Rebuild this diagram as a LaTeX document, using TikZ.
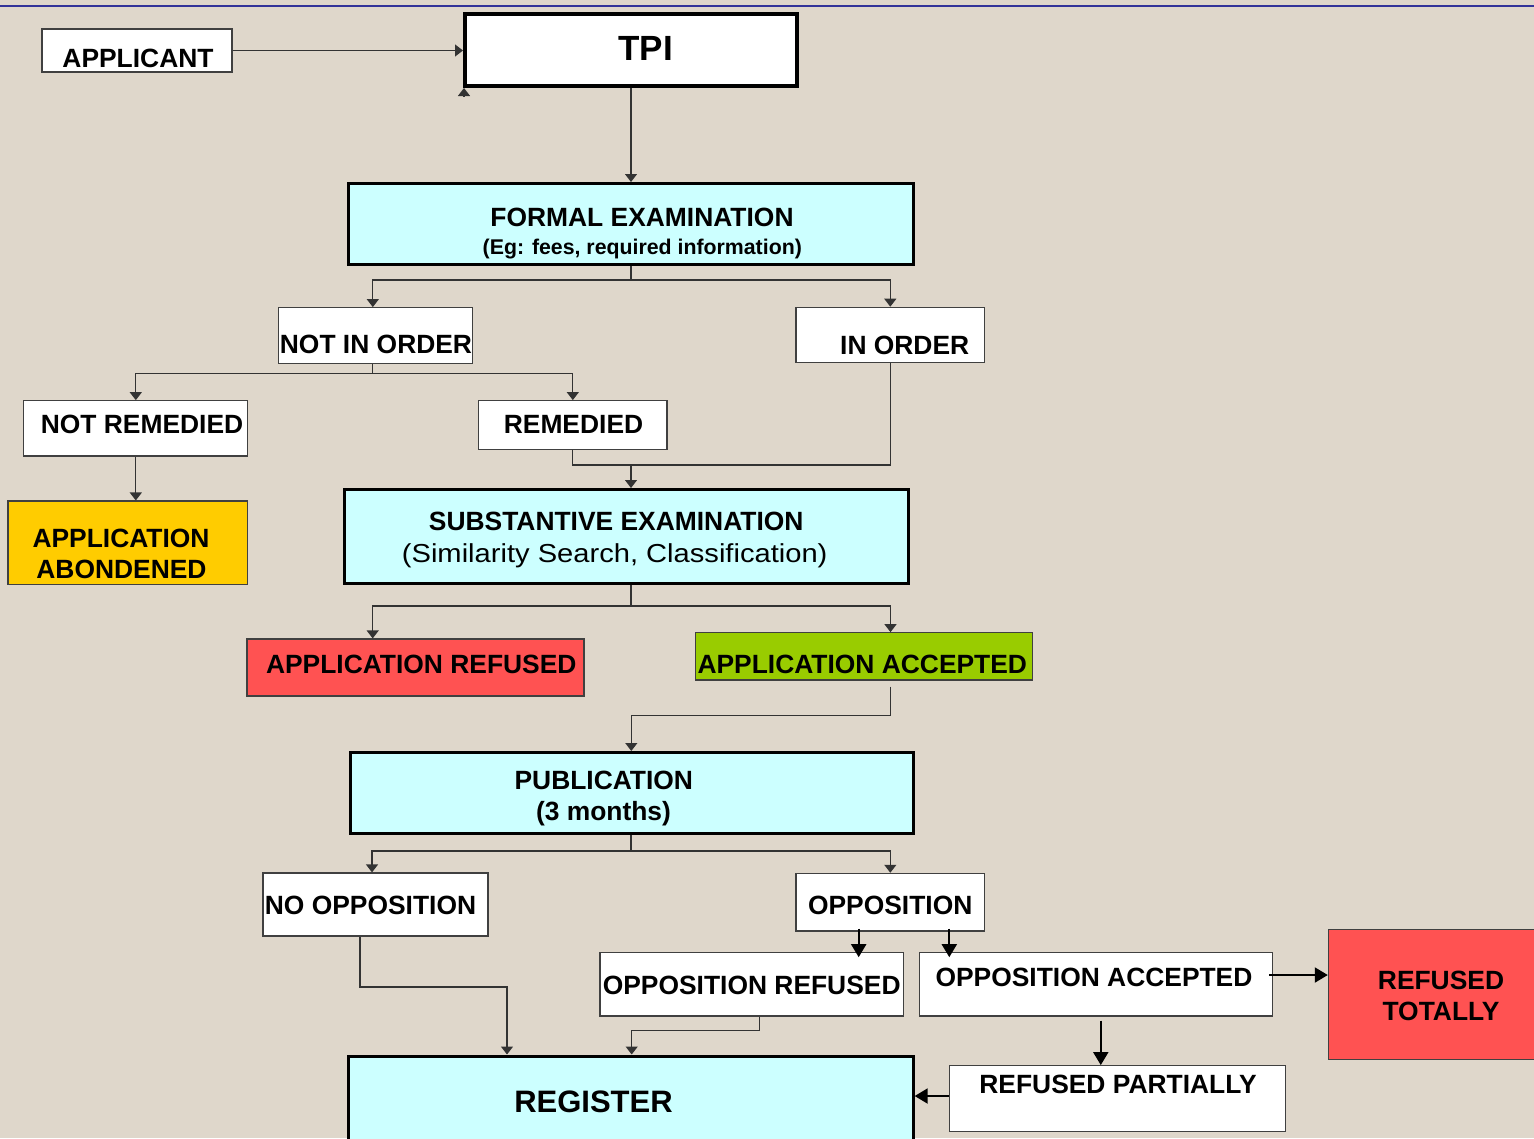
\documentclass[tikz,border=0pt]{standalone}
\usepackage{fontspec}
\usepackage{graphicx}
\setmainfont{Liberation Sans}
\usetikzlibrary{arrows.meta}
\definecolor{bgcol}{RGB}{223,215,203}
\definecolor{topline}{RGB}{51,51,153}
\definecolor{cyanfill}{RGB}{204,255,255}
\definecolor{goldfill}{RGB}{255,204,0}
\definecolor{redfill}{RGB}{255,82,82}
\definecolor{greenfill}{RGB}{153,204,0}
\newcommand\fsz[1]{\fontsize{#1}{#1}\selectfont}
\tikzset{
  thinbox/.style={draw=black!75, line width=1.2pt, fill=white, inner sep=0pt, rectangle},
  cyanbox/.style={draw=black, line width=3pt, fill=cyanfill, inner sep=0pt, rectangle},
  lbl/.style={anchor=base, inner sep=0pt, font=\fsz{26.4}\bfseries},
  wire/.style={draw=black!80, line width=1.2pt},
  conn/.style={wire, -{Triangle[width=12pt,length=8pt]}},
  heavy/.style={draw=black, line width=2pt, -{Triangle[width=15pt,length=13pt]}},
}
\begin{document}
\begin{tikzpicture}[x=1pt,y=-1pt]
\useasboundingbox (0,0) rectangle (1534,1138);
\clip (0,0) rectangle (1534,1138);
\fill[bgcol] (0,0) rectangle (1534,1138);
\draw[topline, line width=2pt] (0,6) -- (1534,6);

% boxes
\node[thinbox, minimum width=190pt, minimum height=43pt] (applicant) at (137,50.5) {};
\node[thinbox, draw=black, line width=4pt, minimum width=332pt, minimum height=72pt] (tpi) at (631,50) {};
\node[cyanbox, minimum width=565pt, minimum height=81pt] (formal) at (631,224) {};
\node[thinbox, minimum width=193.7pt, minimum height=55.6pt] (notinorder) at (375.5,335.5) {};
\node[thinbox, minimum width=188.7pt, minimum height=55.4pt] (inorder) at (890.3,335) {};
\node[thinbox, minimum width=224pt, minimum height=55.3pt] (notremedied) at (135.8,428.4) {};
\node[thinbox, minimum width=188.4pt, minimum height=48.6pt] (remedied) at (572.8,425) {};
\node[thinbox, fill=goldfill, minimum width=239.8pt, minimum height=83.3pt] (abondened) at (127.9,542.7) {};
\node[cyanbox, minimum width=563.5pt, minimum height=94pt] (subst) at (626.3,536.5) {};
\node[thinbox, fill=redfill, minimum width=337pt, minimum height=57pt] (refused) at (415.5,667.5) {};
\node[thinbox, fill=greenfill, minimum width=336.7pt, minimum height=47.3pt] (accepted) at (864,656.4) {};
\node[cyanbox, minimum width=563pt, minimum height=81pt] (publication) at (631.6,793) {};
\node[thinbox, minimum width=225pt, minimum height=63pt] (noopp) at (375.5,904.5) {};
\node[thinbox, minimum width=188.6pt, minimum height=57.7pt] (opp) at (890.3,902.2) {};
\node[thinbox, minimum width=303.7pt, minimum height=63.3pt] (opprefused) at (751.9,984.4) {};
\node[thinbox, minimum width=352.9pt, minimum height=63.3pt] (oppaccepted) at (1096,984.4) {};
\node[thinbox, fill=redfill, minimum width=216.6pt, minimum height=130pt] (totally) at (1436.7,994.3) {};
\node[thinbox, minimum width=336.5pt, minimum height=66pt] (partially) at (1117.6,1098.7) {};
\node[cyanbox, minimum width=564.4pt, minimum height=94pt] (register) at (631,1103) {};

% texts
\node[lbl] (applicant-t) at (138,67) {APPLICANT};
\node[lbl, font=\fsz{35}\bfseries] (tpi-t) at (645.5,60) {TPI};
\node[lbl] (formal-t) at (642,226.7) {FORMAL EXAMINATION};
\node[lbl, font=\fsz{21.3}\bfseries] (formal-s) at (642.3,254) {(Eg: fees, required information)};
\node[lbl] (notinorder-t) at (376,353.3) {NOT IN ORDER};
\node[lbl] (inorder-t) at (904.7,354) {IN ORDER};
\node[lbl] (notremedied-t) at (142,433.3) {NOT REMEDIED};
\node[lbl] (remedied-t) at (573.5,433.3) {REMEDIED};
\node[lbl] (abondened-t1) at (121,547) {APPLICATION};
\node[lbl] (abondened-t2) at (121.5,578) {ABONDENED};
\node[lbl] (subst-t) at (616.2,530.5) {SUBSTANTIVE EXAMINATION};
\node[lbl, font=\fsz{26}] (subst-s) at (614.7,562) {\scalebox{1.12}[1]{(Similarity Search, Classification)}};
\node[lbl] (refused-t) at (421.3,673) {APPLICATION REFUSED};
\node[lbl] (accepted-t) at (862.3,673) {APPLICATION ACCEPTED};
\node[lbl] (publication-t) at (603.8,789) {PUBLICATION};
\node[lbl] (publication-s) at (603.5,820) {(3 months)};
\node[lbl] (noopp-t) at (370.5,914) {NO OPPOSITION};
\node[lbl] (opp-t) at (890.2,914) {OPPOSITION};
\node[lbl] (opprefused-t) at (751.7,994) {OPPOSITION REFUSED};
\node[lbl] (oppaccepted-t) at (1094,986.5) {OPPOSITION ACCEPTED};
\node[lbl] (totally-t1) at (1441,989.3) {REFUSED};
\node[lbl] (totally-t2) at (1441,1020.7) {TOTALLY};
\node[lbl] (partially-t) at (1118,1093) {REFUSED PARTIALLY};
\node[lbl, font=\fsz{31}\bfseries] (register-t) at (593.5,1112) {REGISTER};

% junction coordinates
\coordinate (f1) at (631,280);
\coordinate (n1) at (372.8,373.3);
\coordinate (r1) at (631,465);
\coordinate (s1) at (631,606);
\coordinate (a1) at (631.3,715.3);
\coordinate (p1) at (631,851);
\coordinate (q1) at (631.7,1030.7);
\coordinate (q2) at (507,987);

% connectors
\draw[conn] (applicant.east) -- (applicant.east -| tpi.west);
\coordinate (tpitip) at ([xshift=1pt]tpi.south west);
\draw[conn] ([yshift=-8pt]tpitip) -- (tpitip);
\draw[conn] (tpi.south) -- (formal.north);

\draw[wire] (formal.south) -- (f1);
\draw[conn] (f1) -| ([xshift=-2.7pt]notinorder.north);
\draw[conn] (f1) -| (inorder.north);

\draw[wire] ([xshift=-2.7pt]notinorder.south) -- (n1);
\draw[conn] (n1) -| (notremedied.north);
\draw[conn] (n1) -| (remedied.north);
\draw[conn] (notremedied.south) -- (notremedied.south |- abondened.north);

\draw[wire] (remedied.south) |- (inorder.south |- r1) -- (inorder.south);
\draw[conn] (r1) -- (r1 |- subst.north);

\draw[wire] (s1 |- subst.south) -- (s1);
\draw[conn] (s1) -| ([xshift=-42.8pt]refused.north);
\draw[conn] (s1) -| ([xshift=26.5pt]accepted.north);

\coordinate (acc0) at ([xshift=26.5pt,yshift=-6pt]accepted.south);
\draw[conn] (acc0) |- (a1) -- (a1 |- publication.north);

\draw[wire] (p1 |- publication.south) -- (p1);
\draw[conn] (p1) -| ([xshift=-3.5pt]noopp.north);
\draw[conn] (p1) -| (opp.north);

\coordinate (o1) at ([xshift=-31.6pt,yshift=3pt]opp.south);
\coordinate (o2) at ([xshift=59pt,yshift=3pt]opp.south);
\draw[heavy] (o1) -- ([yshift=-5pt]o1 |- opprefused.north);
\draw[heavy] (o2) -- ([yshift=-5pt]o2 |- oppaccepted.north);

\coordinate (oa) at ([xshift=-4pt,yshift=9.4pt]oppaccepted.east);
\draw[heavy] (oa) -- (oa -| totally.west);
\coordinate (ob) at ([xshift=4.8pt,yshift=-4pt]oppaccepted.south);
\draw[heavy] (ob) -- (ob |- partially.north);
\coordinate (pa) at ([yshift=2.7pt]partially.west);
\draw[heavy] (pa) -- (pa -| register.east);

\draw[conn] ([xshift=7.6pt]opprefused.south) |- (q1) -- (q1 |- register.north);
\draw[conn] ([xshift=-15.5pt]noopp.south) |- (q2) -- (q2 |- register.north);
\end{tikzpicture}
\end{document}
